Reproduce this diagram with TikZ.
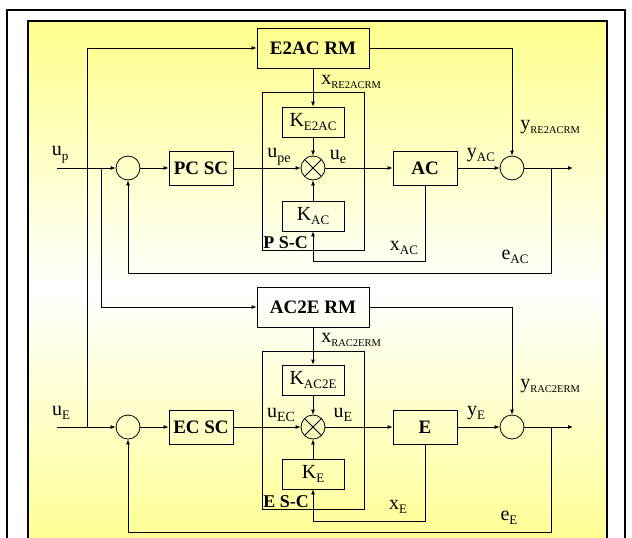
\documentclass[tikz,border=0pt]{standalone}
\usepackage{fontspec}
\setmainfont{Liberation Serif}
\usetikzlibrary{positioning,arrows.meta}
\definecolor{paleyellow}{RGB}{255,255,140}
\newcommand{\sig}[3][13]{#2\raisebox{-4.5pt}{\fontsize{#1}{#1}\selectfont #3}}
\tikzstyle{block}=[
        draw,
        line width = 0.8pt,
        inner sep = 0pt,
        font = \fontsize{19}{19}\selectfont\bfseries
    ]
\tikzstyle{gain}=[
        draw,
        line width = 0.8pt,
        inner sep = 0pt,
        minimum width = 62pt,
        minimum height = 30pt
    ]
\tikzstyle{sum}=[
        draw,
        line width = 0.8pt,
        circle,
        inner sep = 0pt,
        minimum size = 24pt
    ]
\tikzstyle{mult}=[
        sum,
        path picture = {\draw (path picture bounding box.north west) -- (path picture bounding box.south east)
            (path picture bounding box.north east) -- (path picture bounding box.south west);}
    ]
\tikzstyle{lbl}=[inner sep = 0pt]

\begin{document}
\begin{tikzpicture}[x=1pt, y=-1pt, line width=0.8pt, >={Latex[length=5pt,width=4pt]},
    font=\fontsize{20}{20}\selectfont]
        \useasboundingbox (0,0) rectangle (632,538);
        \clip (0,0) rectangle (632,538);
        \draw[line width=2pt] (7,10) rectangle (625,570);
        \shade[top color=paleyellow, bottom color=paleyellow, middle color=white] (28,21) rectangle (607,560);
        \draw[line width=2.5pt] (28,21) rectangle (607,560);

        % upper loop
        \node[sum] (s1) at (128,168) {};
        \node[block, minimum width=64pt, minimum height=34pt] (pcsc) [right of = s1, node distance=73pt] {PC SC};
        \node[mult] (m1) [right of = pcsc, node distance=112pt] {};
        \node[block, minimum width=64pt, minimum height=34pt] (ac) [right of = m1, node distance=112pt] {AC};
        \node[sum] (s2) [right of = ac, node distance=87pt] {};
        \node[gain] (ke2ac) [above of = m1, node distance=46pt] {\sig{K}{E2AC}};
        \node[gain] (kac) [below of = m1, node distance=48pt] {\sig{K}{AC}};
        \node[block, minimum width=112pt, minimum height=40pt] (e2ac) [above of = ke2ac, node distance=74pt] {E2AC RM};
        \draw (262,92) rectangle (364,250);
        \node[lbl, anchor=base west, font=\fontsize{18}{18}\selectfont\bfseries] (psc) at (263,248) {P S-C};

        % lower loop
        \node[sum] (s3) [below of = s1, node distance=259pt] {};
        \node[block, minimum width=64pt, minimum height=34pt] (ecsc) [right of = s3, node distance=73pt] {EC SC};
        \node[mult] (m2) [right of = ecsc, node distance=112pt] {};
        \node[block, minimum width=64pt, minimum height=34pt] (e) [right of = m2, node distance=112pt] {E};
        \node[sum] (s4) [right of = e, node distance=87pt] {};
        \node[gain] (kac2e) [above of = m2, node distance=47pt] {\sig{K}{AC2E}};
        \node[gain] (ke) [below of = m2, node distance=47pt] {\sig{K}{E}};
        \node[block, minimum width=112pt, minimum height=40pt] (ac2e) [above of = kac2e, node distance=73pt] {AC2E RM};
        \draw (262,351) rectangle (364,509);
        \node[lbl, anchor=base west, font=\fontsize{18}{18}\selectfont\bfseries] (esc) at (263,507) {E S-C};

        % inputs, outputs, junctions
        \coordinate (inp) at (57,168);
        \coordinate (ine) at (57,427);
        \coordinate (outp) at (573,168);
        \coordinate (oute) at (573,427);
        \coordinate (jp) at (101,168);
        \coordinate (je) at (87,427);
        \coordinate (jac) at (551,168);
        \coordinate (jee) at (551,427);

        \draw[->] (inp) -- (s1);
        \draw[->] (s1) -- (pcsc);
        \draw[->] (pcsc) -- (m1);
        \draw[->] (m1) -- (ac);
        \draw[->] (ac) -- (s2);
        \draw[->] (s2) -- (outp);
        \draw[->] (e2ac) -- (ke2ac);
        \draw[->] (ke2ac) -- (m1);
        \draw[->] (kac) -- (m1);
        \draw[->] (e2ac.east) -| (s2.north);
        \draw[->] (ac.south) -- ++(0,76) -| (kac.south);
        \draw[->] (jac) -- ++(0,105) -| (s1.south);
        \draw[->] (jp) |- (ac2e.west);

        \draw[->] (ine) -- (s3);
        \draw[->] (s3) -- (ecsc);
        \draw[->] (ecsc) -- (m2);
        \draw[->] (m2) -- (e);
        \draw[->] (e) -- (s4);
        \draw[->] (s4) -- (oute);
        \draw[->] (ac2e) -- (kac2e);
        \draw[->] (kac2e) -- (m2);
        \draw[->] (ke) -- (m2);
        \draw[->] (ac2e.east) -| (s4.north);
        \draw[->] (e.south) -- ++(0,77) -| (ke.south);
        \draw[->] (jee) -- ++(0,105) -| (s3.south);
        \draw[->] (je) |- (e2ac.west);

        % signal labels
        \node[lbl] (lup) at (60,155) {\sig{u}{p}};
        \node[lbl] (lupe) at (279,157) {\sig[14]{u}{pe}};
        \node[lbl] (lue) at (338,157) {\sig[14]{u}{e}};
        \node[lbl] (lyac) at (481,155) {\sig{y}{AC}};
        \node[lbl] (lxac) at (404,248) {\sig{x}{AC}};
        \node[lbl] (leac) at (515,257) {\sig{e}{AC}};
        \node[lbl, anchor=west] (lxr1) at (321,82) {\sig[10.5]{x}{RE2ACRM}};
        \node[lbl, anchor=west] (lyr1) at (520,127) {\sig[10.5]{y}{RE2ACRM}};

        \node[lbl] (lue2) at (61,413) {\sig{u}{E}};
        \node[lbl] (luec) at (281,415) {\sig[14]{u}{EC}};
        \node[lbl] (lue3) at (343,415) {\sig[14]{u}{E}};
        \node[lbl] (lye) at (476,413) {\sig{y}{E}};
        \node[lbl] (lxe) at (398,507) {\sig{x}{E}};
        \node[lbl] (lee) at (509,518) {\sig{e}{E}};
        \node[lbl, anchor=west] (lxr2) at (321,340) {\sig[10.5]{x}{RAC2ERM}};
        \node[lbl, anchor=west] (lyr2) at (520,386) {\sig[10.5]{y}{RAC2ERM}};
    \end{tikzpicture}
\end{document}
